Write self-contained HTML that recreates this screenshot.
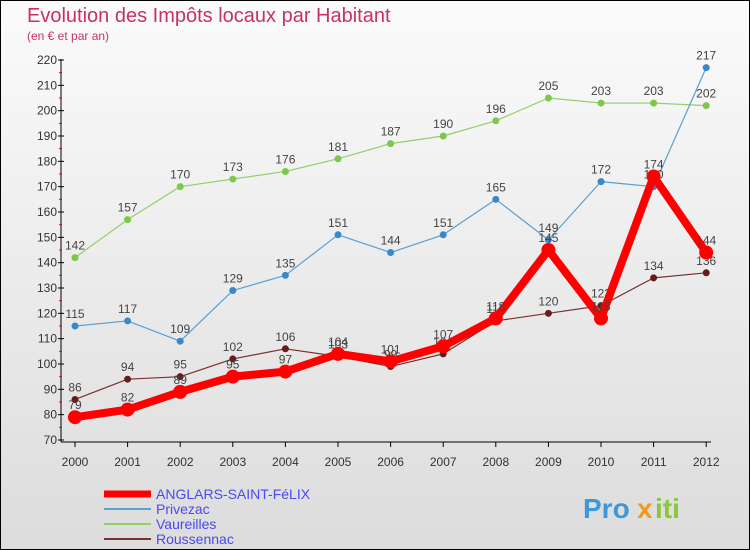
<!DOCTYPE html>
<html><head><meta charset="utf-8"><style>
body{margin:0}
#c{width:750px;height:550px;position:relative;box-sizing:border-box;border:1px solid #000;background:linear-gradient(#fbfbfb,#dcdcdc);font-family:"Liberation Sans",sans-serif;overflow:hidden}
</style></head><body>
<div id="c">
<svg id="s" width="748" height="548"></svg>
</div>
<script>
const years=[2000,2001,2002,2003,2004,2005,2006,2007,2008,2009,2010,2011,2012];
const anglars=[79,82,89,95,97,104,101,107,118,145,118,174,144];
const privezac=[115,117,109,129,135,151,144,151,165,149,172,170,217];
const vaureilles=[142,157,170,173,176,181,187,190,196,205,203,203,202];
const roussennac=[86,94,95,102,106,103,99,104,117,120,123,134,136];
const yTicks=[70,80,90,100,110,120,130,140,150,160,170,180,190,200,210,220];
const NS="http://www.w3.org/2000/svg";
const svg=document.getElementById('s');
const X=i=>74+i*52.6;
const Y=v=>439-(v-70)*(380/150);
function mk(t,a,txt){const e=document.createElementNS(NS,t);for(const k in a)e.setAttribute(k,a[k]);if(txt!==undefined)e.textContent=txt;svg.appendChild(e);return e;}
let e;
e=mk('text',{x:26,y:21,'font-size':20,fill:'#c8325f'},'Evolution des Impôts locaux par Habitant');


e=mk('text',{x:26,y:39,'font-size':12,fill:'#c8325f'},'(en € et par an)');


e=mk('line',{x1:60,y1:58,x2:60,y2:441,stroke:'#000'});


e=mk('line',{x1:60,y1:441,x2:710,y2:441,stroke:'#000'});


yTicks.forEach(v=>{
 e=mk('text',{x:56,y:Y(v)+4,'font-size':12,fill:'#333','text-anchor':'end'},v);
 
 
 mk('line',{x1:57,y1:Y(v),x2:63,y2:Y(v),stroke:'#000'});
 if(v<220)mk('line',{x1:58,y1:Y(v+5),x2:61,y2:Y(v+5),stroke:'#e00'});
});
years.forEach((yr,i)=>{
 mk('line',{x1:X(i),y1:441,x2:X(i),y2:446,stroke:'#000'});
 e=mk('text',{x:X(i),y:465,'font-size':12,fill:'#333','text-anchor':'middle'},yr);
 
 
});
function series(d,col,w,r,name,dot){
 e=mk('polyline',{points:d.map((v,i)=>X(i)+','+Y(v)).join(' '),fill:'none',stroke:col,'stroke-width':w,'stroke-linejoin':'round'});
 
 
 d.forEach((v,i)=>{
  e=mk('circle',{cx:X(i),cy:Y(v),r:r,fill:dot});
  
  
  e=mk('text',{x:X(i),y:Y(v)-8,'font-size':12,fill:'#444','text-anchor':'middle'},v);
  
  
 });
}
series(vaureilles,'#8fd06a',1.2,3.5,'vaureilles','#7cc84a');
series(privezac,'#5a9fd0',1.2,3.5,'privezac','#3a88c8');
series(roussennac,'#7a3030',1.2,3.5,'roussennac','#6a1a1a');
series(anglars,'#ff0000',8,7,'anglars','#ff0000');
const leg=[['ANGLARS-SAINT-FéLIX','#ff0000',7],['Privezac','#5a9fd0',2],['Vaureilles','#8fd06a',2],['Roussennac','#7a3030',2]];
leg.forEach((l,i)=>{
 const y=493+i*15;
 e=mk('line',{x1:103,y1:y,x2:150,y2:y,stroke:l[1],'stroke-width':l[2]});
 
 
 e=mk('text',{x:155,y:y+5,'font-size':14,fill:'#4a4aee'},l[0]);
 
 
});
e=mk('text',{x:582,y:517,'font-size':28,'font-weight':'bold',fill:'#3a9ad8'},'Pro');


mk('text',{x:636,y:517,'font-size':28,'font-weight':'bold',fill:'#f39a1a'},'x');
mk('text',{x:654,y:517,'font-size':28,'font-weight':'bold',fill:'#8cc63f'},'iti');
</script>
</body></html>
